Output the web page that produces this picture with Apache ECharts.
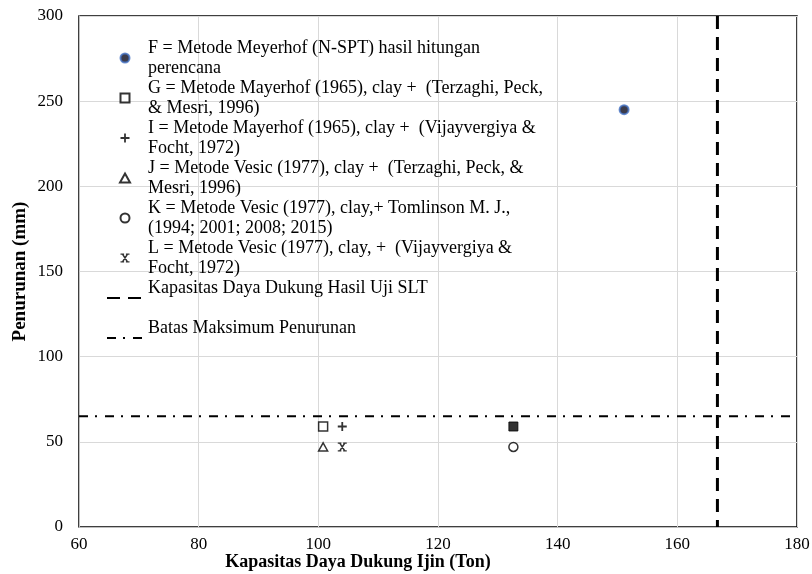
<!DOCTYPE html>
<html>
<head>
<meta charset="utf-8">
<script src="https://cdn.jsdelivr.net/npm/echarts@6/dist/echarts.min.js"></script>
<style>
  html, body { margin: 0; padding: 0; background: #fff; }
  #chart { width: 812px; height: 574px; }
</style>
</head>
<body>
<div id="chart"></div>
<script>
// Titik hasil hitungan (x = kapasitas ijin [Ton], y = penurunan [mm])
const pointF = [[151.1, 245]];
const pointG = [[100.8, 59]];
const pointH = [[132.6, 59]];
const pointI = [[104.0, 59]];
const pointJ = [[100.8, 47]];
const pointK = [[132.6, 47]];
const pointL = [[104.0, 47]];

// Garis referensi
const sltCapacity = 166.7;   // kapasitas daya dukung hasil uji SLT
const maxSettlement = 65;    // batas maksimum penurunan

const xTicks = [60, 180, 20];
const yTicks = [0, 300, 50];

const legendLabels = {
  F: 'F = Metode Meyerhof (N-SPT) hasil hitungan\nperencana',
  G: 'G = Metode Mayerhof (1965), clay +  (Terzaghi, Peck,\n& Mesri, 1996)',
  I: 'I = Metode Mayerhof (1965), clay +  (Vijayvergiya &\nFocht, 1972)',
  J: 'J = Metode Vesic (1977), clay +  (Terzaghi, Peck, &\nMesri, 1996)',
  K: 'K = Metode Vesic (1977), clay,+ Tomlinson M. J.,\n(1994; 2001; 2008; 2015)',
  L: 'L = Metode Vesic (1977), clay, +  (Vijayvergiya &\nFocht, 1972)',
  SLT: 'Kapasitas Daya Dukung Hasil Uji SLT\n ',
  BATAS: 'Batas Maksimum Penurunan\n '
};

const serif = 'Liberation Serif, Times New Roman, serif';
// simbol sebagai path supaya bentuknya tidak melar di legenda
const squarePath = 'path://M0,0 H10 V10 H0 Z';
const trianglePath = 'path://M5,0 L10,9 L0,9 Z';
const plusPath = 'path://M4,0 H6 V4 H10 V6 H6 V10 H4 V6 H0 V4 H4 Z';
const starPath = 'path://M0,0 H4 V1.4 H0 Z M6,0 H10 V1.4 H6 Z M0,8.6 H4 V10 H0 Z M6,8.6 H10 V10 H6 Z ' +
  'M0.8,0 L2.8,0 L9.2,10 L7.2,10 Z M7.2,0 L9.2,0 L2.8,10 L0.8,10 Z';

const openStyle = { color: '#fff', borderColor: '#000', borderWidth: 1.5 };

const chart = echarts.init(document.getElementById('chart'));

const option = {
  animation: false,
  grid: {
    left: 79, right: 15, top: 16, bottom: 47,
    outerBoundsMode: 'none',
    show: true, borderColor: '#000', borderWidth: 1.5, backgroundColor: 'transparent'
  },
  legend: {
    orient: 'vertical',
    left: 101,
    top: 23,
    itemWidth: 36,
    itemHeight: 9,
    itemGap: -20,
    selectedMode: false,
    data: ['F', 'G', 'I', 'J', 'K', 'L', 'SLT', 'BATAS'],
    formatter: name => legendLabels[name],
    textStyle: {
      fontFamily: serif, fontSize: 18, color: '#000',
      lineHeight: 20, padding: [20, 0, 0, 0]
    }
  },
  xAxis: {
    type: 'value',
    min: xTicks[0], max: xTicks[1], interval: xTicks[2],
    name: 'Kapasitas Daya Dukung Ijin (Ton)',
    nameLocation: 'middle',
    nameGap: 26,
    nameMoveOverlap: false,
    nameTextStyle: {
      fontFamily: serif, fontSize: 18, fontWeight: 'bold', color: '#000',
      padding: [0, 160, 0, 0]
    },
    axisLine: { lineStyle: { color: '#bfbfbf', width: 1 } },
    axisTick: { show: false },
    axisLabel: { fontFamily: serif, fontSize: 17, color: '#000', margin: 9 },
    splitLine: { lineStyle: { color: '#d9d9d9', width: 1 } }
  },
  yAxis: {
    type: 'value',
    min: yTicks[0], max: yTicks[1], interval: yTicks[2],
    name: 'Penurunan (mm)',
    nameLocation: 'middle',
    nameGap: 49,
    nameMoveOverlap: false,
    nameTextStyle: { fontFamily: serif, fontSize: 19, fontWeight: 'bold', color: '#000' },
    axisLine: { show: true, lineStyle: { color: '#bfbfbf', width: 1 } },
    axisTick: { show: false },
    axisLabel: { fontFamily: serif, fontSize: 17, color: '#000', margin: 16 },
    splitLine: { lineStyle: { color: '#d9d9d9', width: 1 } }
  },
  series: [
    {
      name: 'SLT', type: 'line', symbol: 'none', z: 3,
      data: [[sltCapacity, yTicks[1]], [sltCapacity, yTicks[0]]],
      lineStyle: { color: '#000', width: 3, type: [13, 8] },
      itemStyle: { color: '#000', opacity: 0 }
    },
    {
      name: 'BATAS', type: 'line', symbol: 'none', z: 3,
      data: [[xTicks[0], maxSettlement], [xTicks[1], maxSettlement]],
      lineStyle: { color: '#000', width: 2, type: [9, 7, 2, 8] },
      itemStyle: { color: '#000', opacity: 0 }
    },
    {
      name: 'F', type: 'scatter', symbol: 'circle', symbolSize: 9, data: pointF,
      itemStyle: { color: '#0b0b1e', borderColor: '#4472c4', borderWidth: 2 }
    },
    {
      name: 'G', type: 'scatter', symbol: squarePath, symbolSize: 9, symbolKeepAspect: true, data: pointG,
      itemStyle: openStyle
    },
    {
      name: 'H', type: 'scatter', symbol: squarePath, symbolSize: 9, symbolKeepAspect: true, data: pointH,
      itemStyle: { color: '#000', borderColor: '#000', borderWidth: 1 }
    },
    {
      name: 'I', type: 'scatter', symbol: plusPath, symbolSize: 9, symbolKeepAspect: true, data: pointI,
      itemStyle: { color: '#000' }
    },
    {
      name: 'J', type: 'scatter', symbol: trianglePath, symbolSize: 9, symbolKeepAspect: true, data: pointJ,
      itemStyle: openStyle
    },
    {
      name: 'K', type: 'scatter', symbol: 'circle', symbolSize: 9, data: pointK,
      itemStyle: openStyle
    },
    {
      name: 'L', type: 'scatter', symbol: starPath, symbolSize: 9, symbolKeepAspect: true, data: pointL,
      itemStyle: { color: '#000' }
    }
  ]
};

chart.setOption(option);
</script>
</body>
</html>
